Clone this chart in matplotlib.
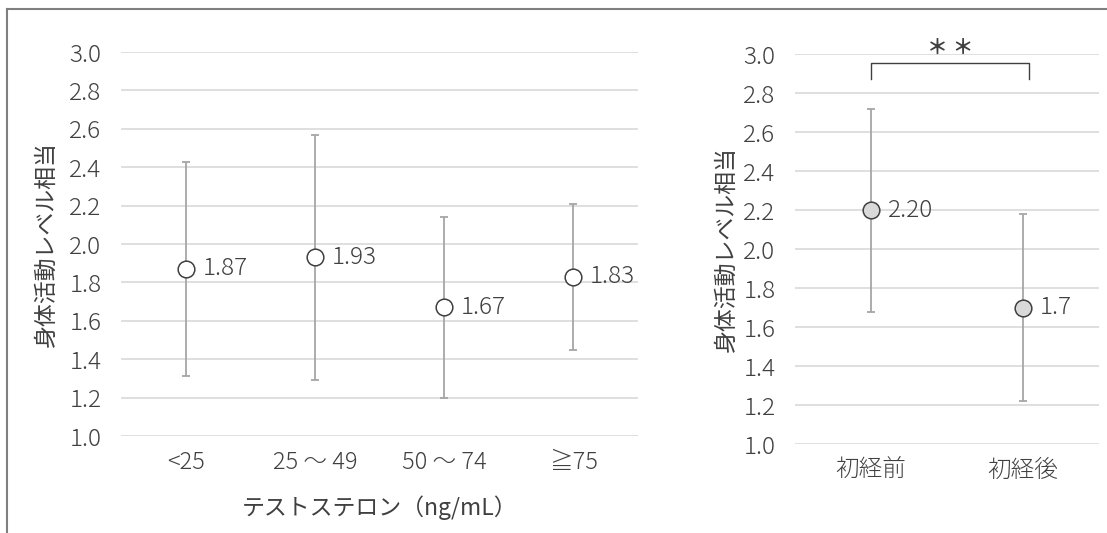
import matplotlib.pyplot as plt
from matplotlib.lines import Line2D

plt.rcParams["font.family"] = ["Noto Sans CJK JP", "DejaVu Sans"]
plt.rcParams["font.weight"] = "light"

# テストステロン群別
t_groups = ["<25", "25 ～ 49", "50 ～ 74", "≧75"]
t_means = [1.87, 1.93, 1.67, 1.83]
t_err = [0.555, 0.64, 0.47, 0.38]

# 初経前後
m_groups = ["初経前", "初経後"]
m_means = [2.20, 1.70]
m_err = [0.52, 0.48]
m_labels = ["2.20", "1.7"]

ylabel = "身体活動レベル相当"
yticks = [1.0, 1.2, 1.4, 1.6, 1.8, 2.0, 2.2, 2.4, 2.6, 2.8, 3.0]

TEXT = "#404040"
GRID = "#d9d9d9"
ERR = "#a6a6a6"
W, H = 1107, 533


def style_axis(ax, n):
    ax.set_xlim(-0.5, n - 0.5)
    ax.set_ylim(1.0, 3.0)
    ax.set_yticks(yticks)
    ax.set_yticklabels([f"{v:.1f}" for v in yticks])
    ax.set_xticks(range(n))
    ax.yaxis.grid(True, color=GRID, linewidth=1.2)
    ax.set_axisbelow(True)
    for s in ax.spines.values():
        s.set_visible(False)
    ax.tick_params(length=0, labelsize=17.5, colors=TEXT, pad=14)
    ax.tick_params(axis="x", labelsize=17, pad=10)


def draw_points(ax, means, err, labels, face):
    xs = range(len(means))
    ax.errorbar(xs, means, yerr=err, fmt="none", ecolor=ERR, elinewidth=1.3,
                capsize=3, capthick=1.3, zorder=2)
    ax.plot(xs, means, "o", markersize=12, markerfacecolor=face,
            markeredgecolor=TEXT, markeredgewidth=1.1, zorder=3)
    for x, m, lab in zip(xs, means, labels):
        ax.annotate(lab, (x, m), xytext=(12, 0), textcoords="offset points",
                    va="center", ha="left", fontsize=17.5, color=TEXT)


fig = plt.figure(figsize=(W / 100, H / 100), dpi=100)

ax1 = fig.add_axes([121 / W, 1 - 436 / H, 517 / W, 384 / H])
style_axis(ax1, len(t_groups))
ax1.set_xticklabels(t_groups)
draw_points(ax1, t_means, t_err, [f"{v:.2f}" for v in t_means], "white")
ax1.set_xlabel("テストステロン（ng/mL）", fontsize=16.5, color=TEXT, labelpad=15)
ax1.set_ylabel(ylabel, fontsize=16.5, color=TEXT, labelpad=8)

ax2 = fig.add_axes([795 / W, 1 - 444.3 / H, 304 / W, 390 / H])
style_axis(ax2, len(m_groups))
ax2.set_xticklabels(m_groups)
draw_points(ax2, m_means, m_err, m_labels, "#d9d9d9")
ax2.set_ylabel(ylabel, fontsize=16.5, color=TEXT, labelpad=4)

# 有意差ブラケット
ax2.plot([0.0, 0.0, 1.04, 1.04], [2.873, 2.954, 2.954, 2.873],
         color=TEXT, linewidth=1.0, clip_on=False)
ax2.text(0.52, 3.035, "＊ ＊", ha="center", va="center", fontsize=15,
         color=TEXT, fontweight="bold", clip_on=False)

# 枠線（上・左）
fx = 7 / W
fy = 1 - 9 / H
fig.add_artist(Line2D([fx, fx], [0, fy], color="#7f7f7f", linewidth=1.5))
fig.add_artist(Line2D([fx, 1], [fy, fy], color="#7f7f7f", linewidth=1.5))

fig.savefig("out.png", dpi=100)
